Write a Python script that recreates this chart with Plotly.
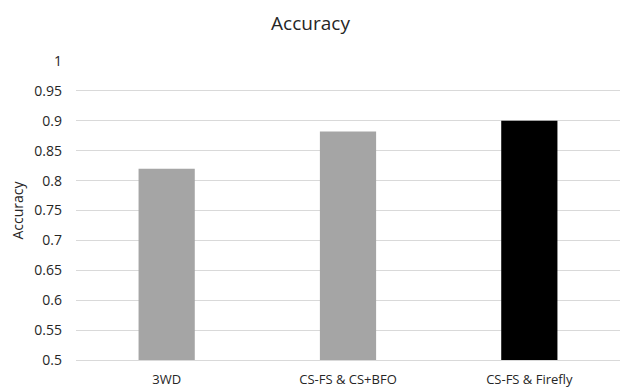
import plotly.graph_objects as go

categories = ["3WD", "CS-FS & CS+BFO", "CS-FS & Firefly"]
accuracy = [0.82, 0.882, 0.90]
bar_colors = ["#a5a5a5", "#a5a5a5", "#000000"]
y_ticks = [0.5, 0.55, 0.6, 0.65, 0.7, 0.75, 0.8, 0.85, 0.9, 0.95, 1.0]
y_tick_labels = ["0.5", "0.55", "0.6", "0.65", "0.7", "0.75", "0.8", "0.85", "0.9", "0.95", "1"]

font_family = "'Open Sans', sans-serif"

fig = go.Figure(
    go.Bar(
        x=categories,
        y=accuracy,
        base=0,
        marker=dict(color=bar_colors, line=dict(width=0)),
        width=0.31,
    )
)

fig.update_layout(
    width=621,
    height=389,
    margin=dict(l=76, r=1, t=61, b=29),
    paper_bgcolor="white",
    plot_bgcolor="white",
    showlegend=False,
    font=dict(family=font_family, color="#262626", size=12),
    title=dict(
        text="Accuracy",
        x=0.5,
        xanchor="center",
        y=1 - 23 / 389,
        yanchor="middle",
        font=dict(size=19, color="#262626", family=font_family),
    ),
)

fig.update_xaxes(
    automargin=False,
    showgrid=False,
    showline=True,
    linecolor="#d9d9d9",
    linewidth=1,
    ticks="",
    ticklabelstandoff=7,
    tickfont=dict(size=13, color="#262626"),
)

fig.update_yaxes(
    automargin=False,
    range=[0.5, 1.0],
    tickvals=y_ticks,
    ticktext=y_tick_labels,
    showgrid=True,
    gridcolor="#d9d9d9",
    gridwidth=1,
    zeroline=False,
    showline=False,
    ticks="",
    ticklabelstandoff=13,
    tickfont=dict(size=14, color="#262626"),
    title=dict(text="Accuracy", font=dict(size=14, color="#262626"), standoff=7),
)

fig.write_html("out.html")
